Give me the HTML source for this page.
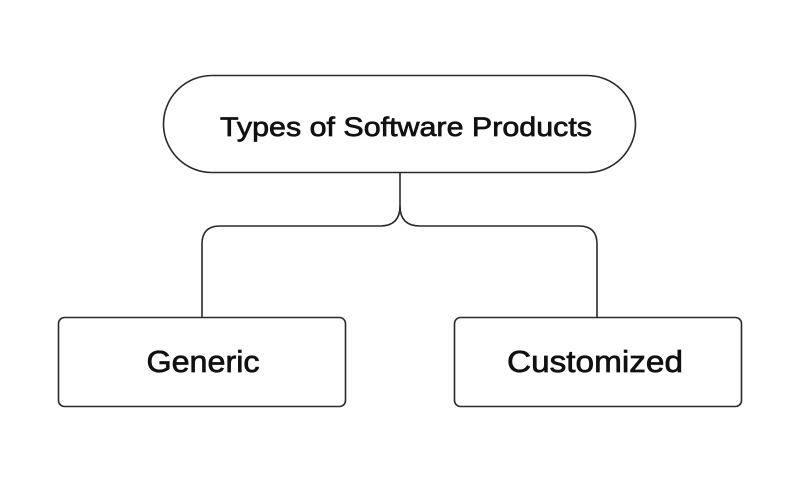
<!DOCTYPE html>
<html><head><meta charset="utf-8"><style>
html,body{margin:0;padding:0;background:#fff;width:800px;height:500px;overflow:hidden}
</style></head><body>
<svg width="800" height="500" viewBox="0 0 800 500" xmlns="http://www.w3.org/2000/svg">
<rect width="800" height="500" fill="#fff"/>
<g fill="none" stroke="#2a2a2a" stroke-width="1.6">
<rect x="163.5" y="75.5" width="472" height="97" rx="48.5" ry="48.5"/>
<path d="M400 173 V206 Q400 226 380 226 H220 Q202 226 202 244 V318"/>
<path d="M400 206 Q400 226 420 226 H579 Q597 226 597 244 V318"/>
<rect x="58.5" y="317.5" width="287" height="89" rx="6"/>
<rect x="454.5" y="317.5" width="287" height="89" rx="6"/>
</g>
<g font-family="'Liberation Sans',sans-serif" fill="#111" stroke="#111" stroke-width="0.7" text-anchor="middle">
<text x="406" y="136" font-size="27" textLength="372" lengthAdjust="spacingAndGlyphs">Types of Software Products</text>
<text x="203" y="372" font-size="31" textLength="113" lengthAdjust="spacingAndGlyphs">Generic</text>
<text x="595" y="372" font-size="31" textLength="176" lengthAdjust="spacingAndGlyphs">Customized</text>
</g>
</svg>
</body></html>
